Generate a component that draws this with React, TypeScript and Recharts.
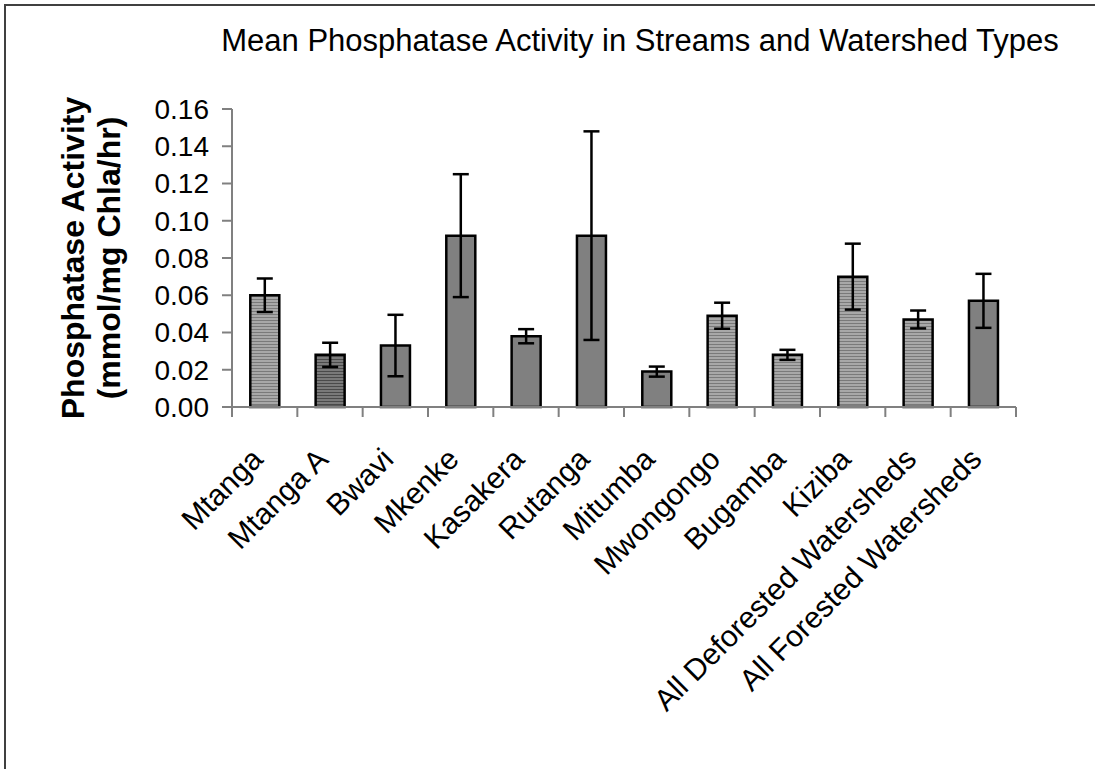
import React from 'react';
import { BarChart, Bar, XAxis, YAxis, Cell, ErrorBar, Label } from 'recharts';

const streams = [
  'Mtanga',
  'Mtanga A',
  'Bwavi',
  'Mkenke',
  'Kasakera',
  'Rutanga',
  'Mitumba',
  'Mwongongo',
  'Bugamba',
  'Kiziba',
  'All Deforested Watersheds',
  'All Forested Watersheds',
];
const meanActivity = [0.06, 0.028, 0.033, 0.092, 0.038, 0.092, 0.019, 0.049, 0.028, 0.07, 0.047, 0.057];
const errActivity = [0.009, 0.0065, 0.0165, 0.033, 0.0038, 0.056, 0.0027, 0.007, 0.0027, 0.0177, 0.0048, 0.0145];
const yTicks = [0, 0.02, 0.04, 0.06, 0.08, 0.1, 0.12, 0.14, 0.16];

// fill of each bar, by index
const barFills = [
  'url(#stripeLight)',
  'url(#stripeDark)',
  '#808080',
  '#808080',
  '#808080',
  '#808080',
  '#808080',
  'url(#stripeLight)',
  'url(#stripeLight)',
  'url(#stripeLight)',
  'url(#stripeLight)',
  '#808080',
];

const data = streams.map((name, i) => ({ name, mean: meanActivity[i], err: errActivity[i] }));

const FONT = '"Liberation Sans", Arial, sans-serif';
const W = 1095;
const H = 769;
const PLOT_LEFT = 232;
const PLOT_RIGHT = 1016;
const PLOT_TOP = 109;
const PLOT_BOTTOM = 407;
const BAND = (PLOT_RIGHT - PLOT_LEFT) / streams.length;

const XTick = (props: any) => {
  const { x, payload, index } = props;
  const left = x - BAND / 2;
  const ax = x;
  const ay = PLOT_BOTTOM + 54;
  return (
    <g>
      <line x1={left} y1={PLOT_BOTTOM} x2={left} y2={PLOT_BOTTOM + 10} stroke="#808080" strokeWidth={2} />
      {index === streams.length - 1 && (
        <line x1={x + BAND / 2} y1={PLOT_BOTTOM} x2={x + BAND / 2} y2={PLOT_BOTTOM + 10} stroke="#808080" strokeWidth={2} />
      )}
      <text
        x={ax}
        y={ay}
        transform={`rotate(-45 ${ax} ${ay})`}
        textAnchor="end"
        fontSize={30}
        fontFamily={FONT}
        fill="#000"
      >
        {payload.value}
      </text>
    </g>
  );
};

const YLabel = (props: any) => {
  const vb = props.viewBox || {};
  const cy = (vb.y ?? PLOT_TOP) + (vb.height ?? PLOT_BOTTOM - PLOT_TOP) / 2;
  return (
    <g fontFamily={FONT} fontWeight="bold" fontSize={32} fill="#000" textAnchor="middle">
      <text x={84} y={cy} transform={`rotate(-90 84 ${cy})`}>
        Phosphatase Activity
      </text>
      <text x={120} y={cy} transform={`rotate(-90 120 ${cy})`}>
        (mmol/mg Chla/hr)
      </text>
    </g>
  );
};

export default function App() {
  return (
    <div style={{ position: 'absolute', left: 0, top: 0, width: W, height: H, background: '#fff', overflow: 'hidden' }}>
      <svg width={0} height={0} style={{ position: 'absolute' }}>
        <defs>
          <pattern id="stripeLight" width={4} height={3} patternUnits="userSpaceOnUse">
            <rect width={4} height={3} fill="#a8a8a8" />
            <rect y={2} width={4} height={1} fill="#7a7a7a" />
          </pattern>
          <pattern id="stripeDark" width={4} height={3} patternUnits="userSpaceOnUse">
            <rect width={4} height={3} fill="#7a7a7a" />
            <rect y={2} width={4} height={1} fill="#4a4a4a" />
          </pattern>
        </defs>
      </svg>
      <div
        style={{
          position: 'absolute',
          left: 4,
          top: 4,
          width: W,
          height: H,
          borderLeft: '2px solid #404040',
          borderTop: '2px solid #404040',
        }}
      />
      <div
        style={{
          position: 'absolute',
          left: 0,
          top: 23,
          width: W,
          paddingLeft: 185,
          boxSizing: 'border-box',
          textAlign: 'center',
          fontFamily: FONT,
          fontSize: 31,
          color: '#000',
          whiteSpace: 'nowrap',
        }}
      >
        Mean Phosphatase Activity in Streams and Watershed Types
      </div>
      <div style={{ position: 'absolute', left: 0, top: 0 }}>
        <BarChart
          width={W}
          height={H}
          data={data}
          margin={{ top: PLOT_TOP, right: W - PLOT_RIGHT, left: 0, bottom: H - PLOT_BOTTOM - 30 }}
          barCategoryGap="28%"
        >
          <XAxis
            dataKey="name"
            height={30}
            interval={0}
            axisLine={{ stroke: '#808080', strokeWidth: 2 }}
            tickLine={false}
            tick={<XTick />}
          />
          <YAxis
            width={PLOT_LEFT}
            domain={[0, 0.16]}
            ticks={yTicks}
            interval={0}
            tickFormatter={(v: number) => v.toFixed(2)}
            axisLine={{ stroke: '#808080', strokeWidth: 2 }}
            tickLine={{ stroke: '#808080', strokeWidth: 2 }}
            tickSize={10}
            tick={{ fill: '#000', fontSize: 28, fontFamily: FONT, dx: -11 }}
          >
            <Label content={<YLabel />} />
          </YAxis>
          <Bar dataKey="mean" stroke="#000" strokeWidth={2.5} isAnimationActive={false}>
            {data.map((d, i) => (
              <Cell key={d.name} fill={barFills[i]} />
            ))}
            <ErrorBar dataKey="err" width={8} stroke="#000" strokeWidth={2.5} direction="y" isAnimationActive={false} />
          </Bar>
        </BarChart>
      </div>
    </div>
  );
}
